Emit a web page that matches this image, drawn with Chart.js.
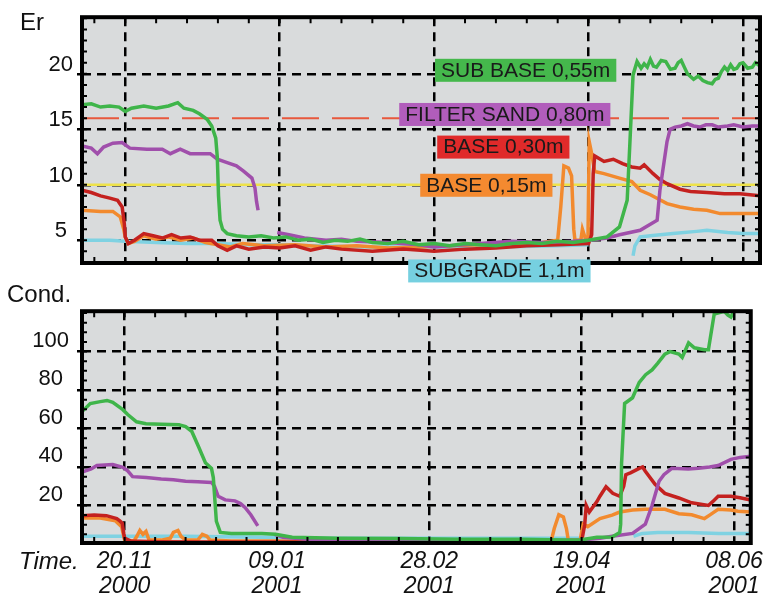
<!DOCTYPE html>
<html>
<head>
<meta charset="utf-8">
<script src="https://cdn.jsdelivr.net/npm/chart.js@4.4.0/dist/chart.umd.min.js"></script>
<style>
  html, body { margin: 0; padding: 0; background: #fff; }
  body { width: 769px; height: 599px; position: relative; overflow: hidden;
         font-family: "Liberation Sans", Arial, sans-serif; }
  .pane { position: absolute; left: 0; width: 769px; }
  #topPane { top: 0; height: 290px; }
  #botPane { top: 290px; height: 309px; }
  .lbl { position: absolute; font-size: 24px; color: #111; line-height: 1; }
</style>
</head>
<body>
<div class="pane" id="topPane"><canvas id="erChart"></canvas></div>
<div class="pane" id="botPane"><canvas id="condChart"></canvas></div>
<div class="lbl" style="left:20px;top:10px">Er</div>
<div class="lbl" style="left:7px;top:282px">Cond.</div>
<div class="lbl" style="left:19px;top:549px;font-style:italic">Time.</div>
<script>
// days counted from 20.11.2000
const dateTicks = [0, 50, 100, 150, 200];
const dateDay = ["20.11", "09.01", "28.02", "19.04", "08.06"];
const dateYear = ["2000", "2001", "2001", "2001", "2001"];
const erTicks = [5, 10, 15, 20];
const condTicks = [20, 40, 60, 80, 100];

// reference levels drawn in the Er panel
const sandRef = 16;
const baseRef = 10;

// Er (permittivity) series, [day, value]
const subBaseEr = [[-14,17.2],[-11,17.3],[-8,17.0],[-5,17.1],[-2,17.0],[0,16.6],[2,16.9],[6,17.1],[10,16.9],[14,17.1],[17,17.4],[19,16.9],[22,16.7],[24,16.4],[26.5,15.9],[28,15.3],[29.3,14.2],[29.8,12.5],[30.2,9.0],[30.7,6.8],[31.5,6.0],[33,5.6],[36,5.4],[40,5.3],[44,5.4],[48,5.2],[52,5.3],[56,5.0],[60,5.1],[64,4.8],[68,5.0],[72,4.9],[76,5.1],[80,4.8],[85,4.7],[90,4.9],[95,4.6],[100,4.7],[105,4.5],[110,4.7],[115,4.6],[120,4.5],[125,4.7],[130,4.8],[135,4.7],[140,4.9],[145,4.8],[150,5.0],[156,5.3],[160,6.2],[162.5,8.6],[163.4,13.9],[164.4,19.9],[165.7,21.1],[167,20.5],[168,20.9],[169,20.6],[170,21.3],[171,20.7],[172,20.6],[173.5,21.2],[175,21.1],[176.5,20.4],[178,20.5],[179,21.0],[180,21.2],[181,20.6],[182,20.0],[184,19.5],[185.5,19.8],[187,19.4],[188.5,19.2],[190,19.1],[191,19.5],[192,19.6],[193,20.2],[194,20.6],[195,20.3],[196,20.8],[197,20.4],[198,20.5],[199,20.9],[200,21.0],[201.5,20.5],[203,20.6],[204,21.0],[205.5,20.7]];
const sandEr = [[-14,13.5],[-11,13.3],[-9,12.8],[-7,13.4],[-4,13.75],[-1,13.8],[1.5,13.3],[7,13.2],[12,13.2],[14.6,12.8],[17.8,13.2],[21,12.8],[27.5,12.8],[29.8,12.3],[33,12.0],[36,11.7],[38.2,11.25],[41,10.6],[42,9.7],[42.5,8.5],[43,7.7],[46,null],[49.2,5.7],[53,5.5],[58,5.2],[65,5.0],[70,5.1],[75,4.9],[85,4.8],[95,4.6],[100,4.4],[105,4.5],[115,4.7],[125,4.9],[135,4.8],[145,4.9],[150,5.0],[156,5.2],[160,5.5],[166.7,5.9],[172.2,6.8],[173.1,9.5],[175.4,13.9],[176.4,15.0],[178,15.2],[180,15.3],[182,15.5],[184,15.3],[186,15.2],[188,15.4],[190,15.4],[192,15.2],[195,15.3],[197,15.4],[200,15.2],[203,15.3],[205.5,15.3]];
const base30Er = [[-14,9.5],[-11,9.3],[-8,9.0],[-5,8.8],[-2.5,8.6],[-1,8.0],[-0.3,6.5],[0,5.3],[1,4.7],[3,5.0],[6,5.6],[9,5.4],[12,5.2],[15,5.5],[18,5.2],[21,5.3],[24,5.0],[28,5.0],[30,4.5],[33,4.1],[36,4.5],[40,4.2],[45,4.4],[50,4.3],[55,4.5],[60,4.1],[65,4.4],[70,4.2],[80,4.0],[90,4.2],[100,4.0],[110,4.2],[120,4.3],[130,4.5],[140,4.6],[150,4.7],[151,5.5],[151.5,11.0],[152,12.6],[155,12.1],[158,12.3],[161,11.9],[164,11.6],[166.7,11.5],[168,11.8],[170.9,11.0],[173,10.5],[175.4,10.1],[179.6,9.6],[183,9.4],[188.3,9.3],[194,9.2],[199,9.2],[205.5,9.0]];
const base15Er = [[-14,7.7],[-8,7.6],[-4,7.6],[-1.6,7.1],[-0.5,6.0],[0,5.3],[1,4.7],[3,4.9],[6,5.4],[10,5.1],[14,5.3],[18,5.0],[22,5.2],[26,4.8],[30,4.6],[34,4.4],[38,4.7],[45,4.5],[55,4.6],[65,4.4],[75,4.5],[85,4.3],[95,4.4],[105,4.5],[115,4.6],[125,4.7],[135,4.8],[140,5.0],[141,8.0],[142,11.7],[143.5,11.5],[144.5,10.8],[145.2,6.0],[145.6,5.0],[147.5,5.0],[148,6.0],[148.9,5.2],[149.8,5.0],[150.2,13.9],[151,12.8],[152,11.2],[155,11.0],[160,10.6],[164,10.3],[166.7,9.5],[170,9.1],[175.4,8.3],[179.6,8.0],[184,7.8],[188.3,7.7],[192.6,7.4],[198,7.4],[205.5,7.4]];
const subgradeEr = [[-14,5.0],[-5,5.0],[0,4.9],[10,4.8],[20,4.7],[30,4.7],[40,4.6],[50,4.6],[60,4.5],[80,4.4],[100,4.4],[120,4.4],[140,4.5],[150,4.6],[157,null],[164.4,3.6],[165,4.5],[166.7,5.3],[170,5.4],[177.3,5.6],[185,5.8],[188.3,5.9],[195,5.7],[200,5.6],[205.5,5.6]];

// conductivity series, [day, value]
const subBaseCond = [[-14,68.8],[-11.3,73],[-8,74],[-5.8,74.6],[-3.9,73.6],[-0.6,69.8],[1,67.3],[3.9,63.5],[7,62.5],[12,62.2],[17.8,62.0],[20,61],[22,58.6],[24.3,50.4],[26.5,42.2],[28.5,39.3],[29.1,34.5],[30.1,11.8],[31.4,6],[35,5.5],[45,5.5],[49.5,5],[55,3.5],[70,3.0],[90,2.8],[110,2.5],[130,2.5],[145,2.0],[150,2.2],[155,3.5],[160,3.6],[162.5,6],[162.8,10.3],[163.1,42],[164.1,73],[166.7,76],[168.9,84],[171,88],[173.1,90.5],[175,94],[177.3,98.7],[179,100],[181.9,98.7],[183,97],[185.1,104.5],[187,102],[190.3,101],[191.6,101],[193.5,119.5],[196.8,121],[198,119],[199,118],[201,124],[205.5,126]];
const sandCond = [[-14,37.4],[-11,39],[-9.1,40.8],[-3.9,41.3],[-0.6,39.8],[1,38],[2.6,35],[7.1,34.5],[12,33.8],[16,33.4],[20,32.6],[24,32.3],[28.5,32],[29.5,30],[30.7,24.8],[33,22.9],[36.2,22.4],[38,21],[39.5,19],[41.4,15.2],[43.7,9.4],[46,null],[49.2,5.0],[52,3.5],[60,2.5],[80,2.2],[100,2.0],[120,2.0],[140,1.8],[150,2.0],[156,3.0],[160,4],[166.7,5.5],[170.9,10.3],[173.1,20],[175.4,32.6],[177,36],[179.6,39.3],[185,39],[188.3,39.3],[192,40],[194.8,40.8],[199,44],[202,45],[205.5,45.6]];
const base30Cond = [[-14,14.7],[-10,15],[-6,14.7],[-2.6,13.2],[-1.6,12],[-0.8,10.8],[-0.3,5.5],[0,3],[2,1.5],[10,1.2],[30,1.0],[50,1.0],[80,1.0],[110,1.0],[140,1.0],[150,1.5],[151,10],[151.5,20],[152.5,16.6],[155,22],[156,24.8],[158,29.7],[160.2,26.3],[162.5,24.8],[163.8,30],[164.5,36],[166,37],[168.9,39.3],[170,40],[170.9,37.8],[174.1,31],[177.3,26.3],[181.9,23.9],[186.1,21.4],[191.6,20],[193,22],[194.8,24.8],[199,24.8],[202,24],[205.5,22.9]];
const base15Cond = [[-14,13.5],[-8,13.5],[-3,12],[-1,9],[0,2],[3,1.5],[4,4],[5,7],[6,5],[7,6.5],[8,2],[12,2],[15,3],[16,6],[17.5,7],[18.5,4],[20,2],[24,2],[25.5,5],[27,4],[28,2],[35,1.5],[50,1.5],[70,1.2],[100,1.5],[130,1.5],[140,1.5],[141,8],[142.5,15.2],[144,14],[145,8],[145.6,2],[149.5,2],[150.5,10.3],[152,9],[156,13.2],[160,15],[162.5,16.6],[166.7,17.6],[170.9,18],[177.3,18],[181.9,15.7],[186.1,15.2],[190.3,13.2],[192,15],[194.8,18],[199,17.6],[201.3,17],[205.5,16.6]];
const subgradeCond = [[-14,4],[0,4],[20,4],[45,3.5],[60,3],[100,3],[140,3],[150,3],[158,null],[167,4],[169.9,5.5],[175,6],[185,6],[195,5.5],[205.5,5.5]];

const dayMin = -14, dayMax = 205.5;
const FONT = '"Liberation Sans", Arial, sans-serif';
const colors = { subBase: "#3fb54a", sand: "#a04fab", base30: "#c4211f", base15: "#f28a2e", subgrade: "#7fd2e2" };

const pts = arr => arr.map(([x, y]) => ({ x, y }));

function line(data, color, order) {
  return { data: pts(data), borderColor: color, borderWidth: 3.5, pointRadius: 0, tension: 0, fill: false, order: order || 0 };
}

// plot background, inner minor ticks, frame and the coloured tags
const framePlugin = {
  id: "frame",
  beforeDraw(chart) {
    const { ctx, chartArea: a } = chart;
    ctx.save();
    ctx.fillStyle = "#d9dbdc";
    ctx.fillRect(a.left, a.top, a.width, a.height);
    ctx.restore();
  },
  afterDraw(chart, args, opts) {
    const { ctx, chartArea: a, scales } = chart;
    const xs = scales.x, ys = scales.y;
    ctx.save();
    ctx.strokeStyle = "#000";
    ctx.lineWidth = 2;
    ctx.beginPath();
    for (let d = -10; d <= dayMax; d += 10) {
      const px = xs.getPixelForValue(d);
      ctx.moveTo(px, a.top); ctx.lineTo(px, a.top + 6);
      ctx.moveTo(px, a.bottom); ctx.lineTo(px, a.bottom - 6);
    }
    for (let v = Math.ceil(ys.min / opts.yStep) * opts.yStep; v <= ys.max; v += opts.yStep) {
      const py = ys.getPixelForValue(v);
      ctx.moveTo(a.left, py); ctx.lineTo(a.left + 5, py);
      ctx.moveTo(a.right, py); ctx.lineTo(a.right - 5, py);
    }
    ctx.stroke();
    ctx.lineWidth = 4;
    ctx.strokeRect(a.left, a.top, a.width, a.height);

    ctx.font = "21px " + FONT;
    ctx.textBaseline = "middle";
    (opts.tags || []).forEach(t => {
      const x = xs.getPixelForValue(t.day);
      const y = ys.getPixelForValue(t.val);
      const w = ctx.measureText(t.text).width + 12;
      ctx.fillStyle = t.bg;
      ctx.fillRect(x, y - 11, w, 23);
      ctx.fillStyle = "#1a1a1a";
      ctx.fillText(t.text, x + 6, y + 1);
    });
    ctx.restore();
  }
};

function xAxis(showLabels, bottomSpace) {
  return {
    type: "linear", min: dayMin, max: dayMax,
    afterFit: s => { s.height = bottomSpace; },
    afterBuildTicks: s => { s.ticks = dateTicks.map(v => ({ value: v })); },
    grid: { color: "#000", lineWidth: 2.5, drawTicks: false },
    border: { display: false, dash: [9, 6] },
    ticks: {
      display: showLabels, padding: 6, color: "#111", maxRotation: 0,
      font: { size: 23, style: "italic", family: FONT, lineHeight: 1.1 },
      callback: (v, i) => [dateDay[i], dateYear[i]]
    }
  };
}

function yAxis(min, max, ticks, pad, offset) {
  return {
    min: min, max: max,
    afterFit: s => { s.width = 82; },
    afterBuildTicks: s => { s.ticks = ticks.map(v => ({ value: v })); },
    grid: { color: "#000", lineWidth: 2.5, drawTicks: true, tickLength: 5 },
    border: { display: false, dash: [9, 6] },
    ticks: { color: "#111", padding: pad, crossAlign: "center", labelOffset: offset,
             font: { size: 22, family: FONT } }
  };
}

const common = {
  responsive: true, maintainAspectRatio: false, animation: false,
  plugins: { legend: { display: false }, tooltip: { enabled: false } }
};

new Chart(document.getElementById("erChart"), {
  type: "line",
  data: {
    datasets: [
      line(subgradeEr, colors.subgrade, 5),
      line(base15Er, colors.base15, 4),
      line(base30Er, colors.base30, 3),
      line(sandEr, colors.sand, 2),
      line(subBaseEr, colors.subBase, 1),
      { data: [{ x: dayMin, y: sandRef }, { x: dayMax, y: sandRef }], borderColor: "#e8583c", borderWidth: 2,
        borderDash: [37, 13], pointRadius: 0, order: 9 },
      { data: [{ x: dayMin, y: baseRef }, { x: dayMax, y: baseRef }], borderColor: "#eee24a", borderWidth: 2.5,
        pointRadius: 0, order: 9 }
    ]
  },
  options: Object.assign({}, common, {
    layout: { padding: { top: 14, right: 9, left: 0, bottom: 0 } },
    scales: { x: xAxis(false, 27), y: yAxis(2.95, 25.1, erTicks, 4, -9) },
    plugins: Object.assign({}, common.plugins, {
      frame: {
        yStep: 1,
        tags: [
          { text: "SUB BASE 0,55m", bg: "#45b84c", day: 100.3, val: 20.36 },
          { text: "FILTER SAND 0,80m", bg: "#b15dbb", day: 88.7, val: 16.38 },
          { text: "BASE 0,30m", bg: "#e02a2a", day: 101, val: 13.44 },
          { text: "BASE 0,15m", bg: "#f48a30", day: 95.5, val: 10.0 },
          { text: "SUBGRADE 1,1m", bg: "#76d0e0", day: 91.6, val: 2.28 }
        ]
      }
    })
  }),
  plugins: [framePlugin]
});

new Chart(document.getElementById("condChart"), {
  type: "line",
  data: {
    datasets: [
      line(subgradeCond, colors.subgrade, 5),
      line(base15Cond, colors.base15, 4),
      line(base30Cond, colors.base30, 3),
      line(sandCond, colors.sand, 2),
      line(subBaseCond, colors.subBase, 1)
    ]
  },
  options: Object.assign({}, common, {
    layout: { padding: { top: 3, right: 9, left: 0, bottom: 0 } },
    scales: { x: xAxis(true, 56), y: yAxis(0.5, 121, condTicks, 8, -11) },
    plugins: Object.assign({}, common.plugins, { frame: { yStep: 5 } })
  }),
  plugins: [framePlugin]
});
</script>
</body>
</html>
